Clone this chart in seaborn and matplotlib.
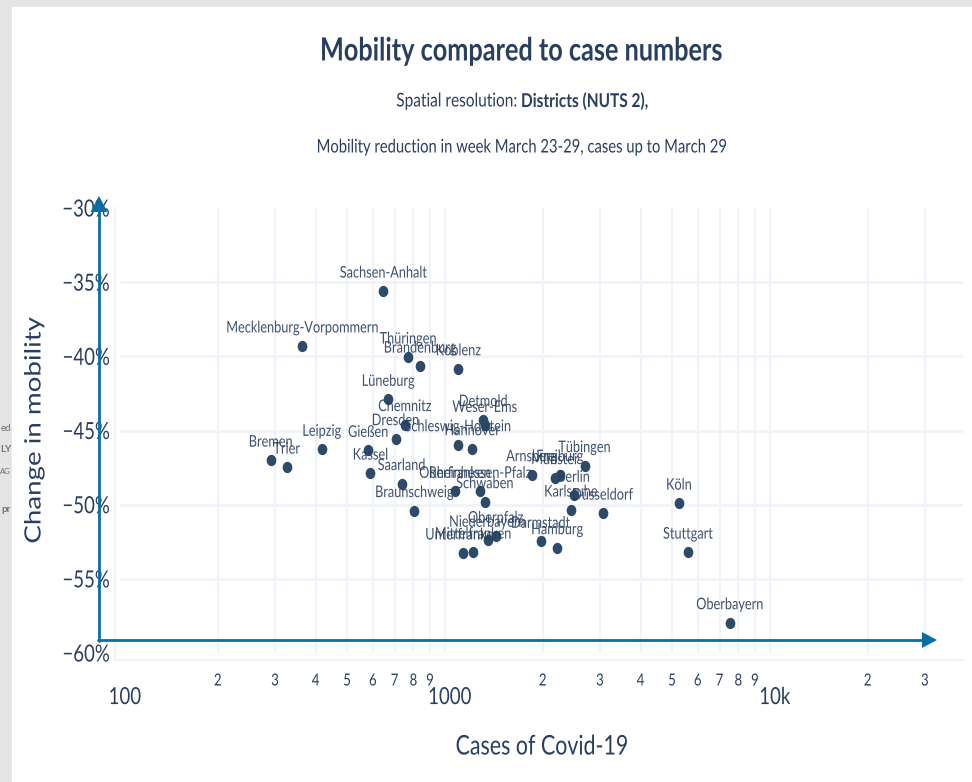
import matplotlib
matplotlib.use("Agg")
import matplotlib.pyplot as plt
from matplotlib.lines import Line2D
from matplotlib.markers import MarkerStyle
from matplotlib.patches import Polygon, Rectangle
from matplotlib.patheffects import AbstractPathEffect
from matplotlib.transforms import Affine2D, ScaledTranslation
import seaborn as sns
import pandas as pd

regions = ["Sachsen-Anhalt", "Mecklenburg-Vorpommern", "Thüringen", "Brandenburg", "Koblenz", "Lüneburg",
           "Detmold", "Weser-Ems", "Chemnitz", "Dresden", "Schleswig-Holstein", "Hannover", "Leipzig", "Gießen",
           "Kassel", "Saarland", "Braunschweig", "Bremen", "Trier", "Oberfranken", "Rheinhessen-Pfalz", "Schwaben",
           "Oberpfalz", "Niederbayern", "Mittelfranken", "Unterfranken", "Arnsberg", "Münster", "Freiburg",
           "Tübingen", "Berlin", "Karlsruhe", "Düsseldorf", "Darmstadt", "Hamburg", "Köln", "Stuttgart", "Oberbayern"]
cases = [646, 364, 771, 839, 1099, 669, 1312, 1327, 753, 705, 1096, 1213, 418, 581, 590, 736, 805, 291, 326,
         1074, 1284, 1327, 1432, 1353, 1222, 1136, 1849, 2180, 2259, 2691, 2489, 2441, 3056, 1970, 2216, 5248,
         5594, 7534]
mobility = [-35.6, -39.3, -40.05, -40.66, -40.84, -42.9, -44.27, -44.66, -44.6, -45.55, -45.96, -46.23, -46.27,
            -46.34, -47.87, -48.58, -50.4, -47.0, -47.47, -49.1, -49.1, -49.8, -52.12, -52.4, -53.2, -53.26,
            -47.98, -48.18, -47.98, -47.37, -49.37, -50.36, -50.57, -52.47, -52.9, -49.9, -53.2, -57.96]
y_ticks = [-30, -35, -40, -45, -50, -55, -60]
y_tick_labels = ["−30%", "−35%", "−40%", "−45%", "−50%", "−55%", "−60%"]
x_major = [100, 1000, 10000]
x_major_labels = ["100", "1000", "10k"]
x_minor = [200, 300, 400, 500, 600, 700, 800, 900, 2000, 3000, 4000, 5000, 6000, 7000, 8000, 9000, 20000, 30000]
x_minor_labels = ["2", "3", "4", "5", "6", "7", "8", "9", "2", "3", "4", "5", "6", "7", "8", "9", "2", "3"]

INK = "#2a3f5f"
GRID = "#f0f4fa"
ARROW = "#0a6ea5"
W, H = 972, 782


class Squeeze(AbstractPathEffect):
    """Condense a text's glyphs along its own baseline, the screenshot being squeezed."""

    def __init__(self, sx=0.79, sy=1.0, anchor=0.5):
        super().__init__()
        self.sx, self.sy, self.anchor = sx, sy, anchor

    def draw_path(self, renderer, gc, tpath, affine, rgbFace=None):
        width = tpath.get_extents().x1
        local = Affine2D().scale(self.sx, self.sy).translate((1 - self.sx) * width * self.anchor, 0)
        renderer.draw_path(gc, tpath, local + affine, rgbFace)


sns.set_theme(style="white")
plt.rcParams["font.family"] = ["Lato", "DejaVu Sans"]

fig = plt.figure(figsize=(W / 100, H / 100), dpi=100, facecolor="#e4e4e4")
fig.add_artist(Rectangle((12 / W, 0), 1, 1 - 7 / H, transform=fig.transFigure, color="white", zorder=-5))
ax = fig.add_axes([115 / W, 1 - 660 / H, 848 / W, 452 / H])
ax.patch.set_alpha(0)
df = pd.DataFrame({"cases": cases, "mobility": mobility, "region": regions})

ax.set_xscale("log")
ax.set_xlim(96.5, 39300)
ax.set_ylim(-60.47, -30)
ax.set_zorder(2)

ax.hlines(y_ticks[1:-1], 100, 39300, color=GRID, lw=2, zorder=1)
ax.vlines(x_minor + x_major[1:], -60, -30, color=GRID, lw=1.5, zorder=1)

dot = MarkerStyle("o", transform=Affine2D().scale(0.86, 1.0))
sns.scatterplot(data=df, x="cases", y="mobility", ax=ax, s=66, color="#2d4a68", linewidth=0, zorder=4,
                clip_on=False, marker=dot)
for name, cx, cy in zip(regions, cases, mobility):
    ax.annotate(name, (cx, cy), xytext=(0, 17.5), textcoords="offset pixels", ha="center", va="center",
                fontsize=11.6, color=INK, alpha=0.9, zorder=5, path_effects=[Squeeze()])

for side in ("top", "right"):
    ax.spines[side].set_visible(False)
for side in ("left", "bottom"):
    ax.spines[side].set_color(GRID)
    ax.spines[side].set_linewidth(1.5)

ax.set_yticks(y_ticks)
ax.set_yticklabels(y_tick_labels, fontsize=17, color=INK)
ax.tick_params(axis="y", length=0, pad=3.5)
for lab in ax.get_yticklabels():
    lab.set_path_effects([Squeeze(anchor=1.0)])
ax.set_xticks(x_major)
ax.set_xticklabels(x_major_labels, fontsize=17, color=INK)
ax.set_xticks(x_minor, labels=x_minor_labels, minor=True, fontsize=12, color=INK)
ax.tick_params(axis="x", which="major", length=0, pad=19.5)
ax.tick_params(axis="x", which="minor", length=0, pad=9)
shift = ScaledTranslation(5 / 100, 0, fig.dpi_scale_trans)
for lab in ax.get_xticklabels():
    lab.set_transform(lab.get_transform() + shift)
    lab.set_path_effects([Squeeze()])
for lab in ax.get_xticklabels(minor=True):
    lab.set_path_effects([Squeeze()])

ax.set_xlabel("")
ax.set_ylabel("")
squeeze = [Squeeze()]
fig.text(542 / W, 1 - 747 / H, "Cases of Covid-19", fontsize=19.5, color=INK, ha="center", va="center",
         path_effects=squeeze)
fig.text(33 / W, 1 - 430 / H, "Change in mobility", fontsize=19, color=INK, ha="center", va="center",
         rotation=90, path_effects=[Squeeze(sx=1.05, sy=0.85)])

fig.text(522 / W, 1 - 51 / H, "Mobility compared to case numbers", fontsize=23, fontweight="bold",
         color=INK, ha="center", va="center", path_effects=squeeze)
fig.text(517 / W, 1 - 101 / H, "Spatial resolution:", fontsize=13.7, color=INK, ha="right", va="center",
         path_effects=[Squeeze(sx=0.81, anchor=1.0)])
fig.text(521 / W, 1 - 101 / H, "Districts (NUTS 2),", fontsize=13.7, fontweight="bold", color=INK, ha="left",
         va="center", path_effects=[Squeeze(sx=0.81, anchor=0.0)])
fig.text(522 / W, 1 - 147 / H, "Mobility reduction in week March 23-29, cases up to March 29", fontsize=13.5,
         color=INK, ha="center", va="center", path_effects=squeeze)


def px(x, y):
    return x / W, 1 - y / H


fig.add_artist(Line2D(*zip(px(99, 641), px(99, 205)), transform=fig.transFigure, color=ARROW, lw=2, zorder=6))
fig.add_artist(Line2D(*zip(px(98, 640), px(925, 640)), transform=fig.transFigure, color=ARROW, lw=2, zorder=6))
fig.add_artist(Polygon([px(99, 196), px(90.5, 212), px(107.5, 212)], transform=fig.transFigure, color=ARROW, lw=0, zorder=6))
fig.add_artist(Polygon([px(937, 640), px(922, 632), px(922, 648)], transform=fig.transFigure, color=ARROW, lw=0, zorder=6))

for text, x, y, size, weight in [("ed", 11, 429, 7, "normal"), ("LY", 11, 450, 7, "bold"), ("AG", 11, 471, 5.5, "normal"),
                                 ("pr", 11, 509, 7, "bold")]:
    fig.text(x / W, 1 - y / H, text, fontsize=size, fontweight=weight, color="#555555", ha="right", va="center", alpha=0.8)

fig.savefig("out.png", dpi=100, facecolor=fig.get_facecolor())
